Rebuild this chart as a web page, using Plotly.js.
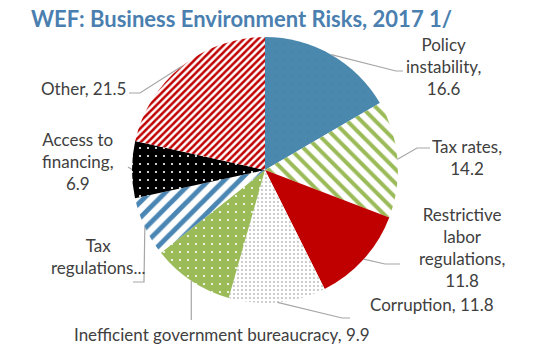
<!DOCTYPE html>
<html><head><meta charset="utf-8">
<script src="https://cdn.plot.ly/plotly-3.0.1.min.js"></script>
<style>html,body{margin:0;padding:0;background:#fff}#c{width:534px;height:350px}</style>
</head><body><div id="c"></div>
<script>
// ---- data ----
const categories = ['Policy instability','Tax rates','Restrictive labor regulations','Corruption','Inefficient government bureaucracy','Tax regulations','Access to financing','Other'];
const values = [16.6, 14.2, 11.8, 11.8, 9.9, 7.3, 6.9, 21.5];
const displayLabels = ['Policy<br>instability,<br>16.6','Tax rates,<br>14.2','Restrictive<br>labor<br>regulations,<br>11.8','Corruption, 11.8','Inefficient government bureaucracy, 9.9','Tax<br>regulations...','Access to<br>financing,<br>6.9','Other, 21.5'];

// ---- styles ----
const W = 534, H = 350;
const cx = 265, cy = 170, R = 133;
const shapesP   = ['.', '\\', '', '.', '.', '/', '.', '/'];
const fgColors  = ['#4684A8', '#9BBB59', '#C00000', '#BDBDBD', '#FFFFFF', '#4A86B3', '#FFFFFF', '#C00000'];
const bgColors  = ['#4A89AD', '#FFFFFF', '#C00000', '#FFFFFF', '#9BBB59', '#FFFFFF', '#000000', '#FFFFFF'];
const pSizes    = [8, 10, 8, 4, 8, 11, 8, 5];
const pSolid    = [0.05, 0.4, 0.5, 0.2, 0.06, 0.45, 0.06, 0.5];
// label placement (pixels) and leader-line elbows
const labelPos = [[443,66],[467,157],[462,247],[432,304],[222,334],[98,256],[78,161],[83,88]];
const elbows = [[[396,71],[403,71]], [[417,148],[430,148]], [[385,264],[400,264]], [[342,318],[350,318]], [[null,320]], [[144,282],[133,282]], [[128,167]], [[140,93],[129,93]]];

const px = x => x / W, py = y => 1 - y / H;

const total = values.reduce((a,b)=>a+b,0);
let cum = 0;
const shapes = [], annotations = [];
values.forEach((v,i)=>{
  const mid = (cum + v/2) / total * 2 * Math.PI;
  cum += v;
  const ex = cx + R * Math.sin(mid), ey = cy - R * Math.cos(mid);
  let path = `M${px(ex)},${py(ey)}`;
  elbows[i].forEach(p=>{ const xx = p[0] === null ? ex : p[0]; path += ` L${px(xx)},${py(p[1])}`; });
  shapes.push({type:'path', xref:'paper', yref:'paper', path, line:{color:'#A6A6A6', width:1.2}});
  annotations.push({xref:'paper', yref:'paper', x:px(labelPos[i][0]), y:py(labelPos[i][1]), xanchor:'center', yanchor:'middle', text:displayLabels[i], showarrow:false, align:'center', font:{family:'Lato, sans-serif', size:17, color:'#404040'}});
});
annotations.push({xref:'paper', yref:'paper', x:px(29), y:py(19), xanchor:'left', yanchor:'middle', text:'<b>WEF: Business Environment Risks, 2017 1/</b>', showarrow:false, font:{family:'Lato, sans-serif', size:22, color:'#4A7FB0'}});

const trace = {
  type:'pie', labels:categories, values:values, sort:false, direction:'clockwise', rotation:0,
  textinfo:'none', hoverinfo:'label+value',
  domain:{x:[px(cx-R), px(cx+R)], y:[py(cy+R), py(cy-R)]},
  marker:{colors:bgColors, line:{width:0}, pattern:{shape:shapesP, fgcolor:fgColors, bgcolor:bgColors, size:pSizes, solidity:pSolid, fillmode:'replace'}}
};
Plotly.newPlot('c',[trace],{width:W,height:H,margin:{l:0,r:0,t:0,b:0},showlegend:false,paper_bgcolor:'#fff',shapes,annotations},{displayModeBar:false,staticPlot:true});
</script></body></html>
